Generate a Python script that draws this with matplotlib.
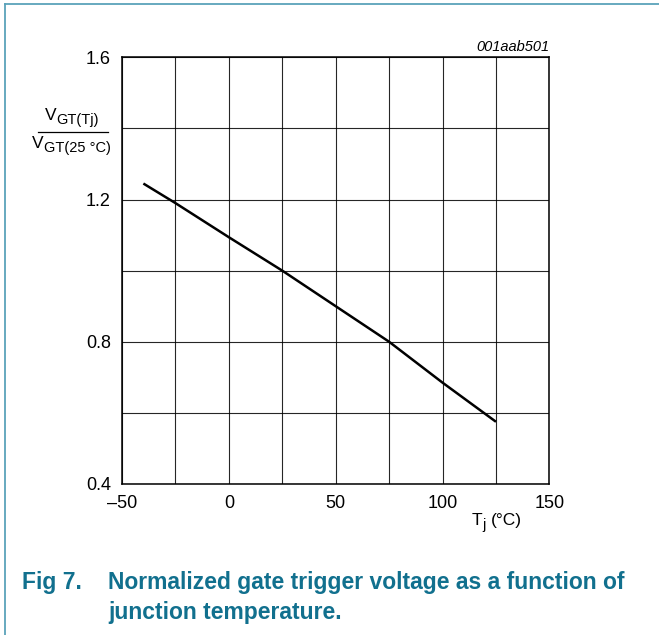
import matplotlib
matplotlib.use("Agg")
import matplotlib.pyplot as plt
from matplotlib.lines import Line2D
import numpy as np

plt.rcParams['font.family'] = ['Liberation Sans', 'DejaVu Sans']

# data
tj = [-40, -25, 0, 25, 50, 75, 100, 125]
vgt_ratio = [1.245, 1.19, 1.094, 1.0, 0.9, 0.8, 0.685, 0.575]
x_ticks = [-50, 0, 50, 100, 150]
x_tick_labels = ['\u201350', '0', '50', '100', '150']
y_ticks = [0.4, 0.8, 1.2, 1.6]
y_tick_labels = ['0.4', '0.8', '1.2', '1.6']

W, H = 659, 635
fig = plt.figure(figsize=(W / 100, H / 100), dpi=100)

def fx(px):
    return px / W

def fy(py):
    return 1 - py / H

ax = fig.add_axes([fx(122), fy(484), fx(549.4) - fx(122), fy(57.3) - fy(484)])
ax.plot(tj, vgt_ratio, color='black', lw=1.8, solid_capstyle='butt', zorder=3)
ax.set_xlim(-50, 150)
ax.set_ylim(0.4, 1.6)
ax.set_xticks(np.arange(-50, 151, 25), minor=True)
ax.set_yticks(np.arange(0.4, 1.61, 0.2), minor=True)
ax.set_xticks(x_ticks)
ax.set_xticklabels(x_tick_labels)
ax.set_yticks(y_ticks)
ax.set_yticklabels(y_tick_labels)
ax.grid(True, which='both', color='black', lw=0.8, alpha=0.85)
ax.tick_params(which='both', length=0, labelsize=13)
ax.tick_params(axis='x', pad=8)
ax.tick_params(axis='y', pad=8)
for s in ax.spines.values():
    s.set_linewidth(1.1)

# y label fraction (main letter + lowered subscript)
main_fs = 12.5
sub_fs = 10.5
fig.text(fx(45), fy(120), 'V', ha='left', va='baseline', fontsize=main_fs)
fig.text(fx(56), fy(124), 'GT(Tj)', ha='left', va='baseline', fontsize=sub_fs)
fig.add_artist(Line2D([fx(38), fx(108)], [fy(132.3), fy(132.3)], color='black', lw=0.9))
fig.text(fx(31.7), fy(148.3), 'V', ha='left', va='baseline', fontsize=main_fs)
fig.text(fx(43.5), fy(152.3), 'GT(25 \u00b0C)', ha='left', va='baseline', fontsize=sub_fs)

# x label
fig.text(fx(471.5), fy(525), 'T', ha='left', va='baseline', fontsize=main_fs)
fig.text(fx(482), fy(529), 'j', ha='left', va='baseline', fontsize=sub_fs)
fig.text(fx(490.5), fy(525), '(\u00b0C)', ha='left', va='baseline', fontsize=main_fs)

# code id
fig.text(fx(549), fy(47), '001aab501', ha='right', va='center', fontsize=10.5, style='italic')

# caption
cap_color = '#11708E'
cap_fs = 16.5
fig.text(fx(22.5), fy(583), 'Fig 7.', ha='left', va='center', fontsize=cap_fs, fontweight='bold', color=cap_color)
fig.text(fx(108), fy(583), 'Normalized gate trigger voltage as a function of',
         ha='left', va='center', fontsize=cap_fs, fontweight='bold', color=cap_color)
fig.text(fx(108), fy(612), 'junction temperature.',
         ha='left', va='center', fontsize=cap_fs, fontweight='bold', color=cap_color)

# page frame (top and left)
frame_color = '#5AA2BA'
fig.add_artist(Line2D([fx(5), 1], [fy(4), fy(4)], color=frame_color, lw=1.3))
fig.add_artist(Line2D([fx(5), fx(5)], [fy(4), 0], color=frame_color, lw=1.3))

fig.savefig('out.png', dpi=100)
